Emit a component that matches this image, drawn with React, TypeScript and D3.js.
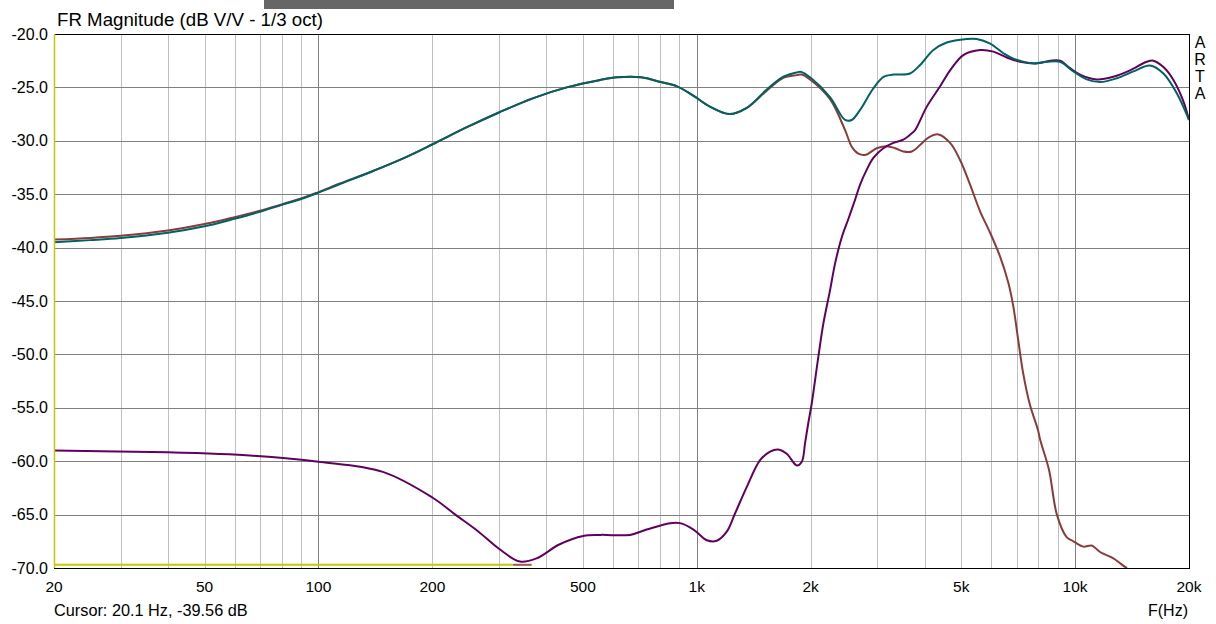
import React from "react";
import * as d3 from "d3";

// ---- Data ----
const xTickValues = [20, 50, 100, 200, 500, 1000, 2000, 5000, 10000, 20000];
const xTickLabels = ["20", "50", "100", "200", "500", "1k", "2k", "5k", "10k", "20k"];
const yTickValues = [-20, -25, -30, -35, -40, -45, -50, -55, -60, -65, -70];

// Total response (teal)
const totalFreq = [20, 25, 30, 40, 50, 60, 70, 80, 90, 100, 114, 140, 171, 201, 246, 302, 370, 453, 556, 615, 712, 803, 887, 981, 1083, 1220, 1352, 1531, 1694, 1836, 1890, 2000, 2250, 2466, 2568, 2702, 2929, 3122, 3308, 3661, 3893, 4221, 4578, 5170, 5497, 5963, 6463, 6868, 7760, 8420, 9126, 9895, 10735, 11640, 12892, 14259, 15787, 17115, 18566, 20000];
const totalDb = [-39.5, -39.3, -39.1, -38.6, -38.0, -37.3, -36.65, -36.0, -35.45, -34.85, -34.05, -32.8, -31.5, -30.3, -28.75, -27.3, -26.0, -25.0, -24.3, -24.05, -24.05, -24.5, -24.9, -25.8, -26.8, -27.5, -26.95, -25.2, -24.0, -23.6, -23.55, -24.1, -25.9, -28.05, -28.05, -27.1, -25.1, -24.0, -23.8, -23.7, -22.9, -21.5, -20.8, -20.47, -20.47, -20.9, -21.8, -22.3, -22.75, -22.6, -22.6, -23.5, -24.25, -24.5, -24.15, -23.5, -22.95, -23.7, -25.55, -28.05];

// Woofer (brown)
const wooferFreq = [20, 25, 30, 40, 50, 60, 70, 80, 90, 100, 114, 140, 171, 201, 246, 302, 370, 453, 556, 615, 712, 803, 887, 981, 1083, 1220, 1352, 1531, 1694, 1836, 1890, 2000, 2250, 2466, 2568, 2674, 2800, 2989, 3178, 3344, 3516, 3701, 3893, 4095, 4352, 4673, 4965, 5277, 5608, 5960, 6335, 6660, 6865, 7073, 7293, 7593, 7980, 8085, 8530, 8950, 9495, 9895, 10518, 11066, 11640, 12620, 13550, 13720];
const wooferDb = [-39.25, -39.1, -38.9, -38.4, -37.8, -37.15, -36.55, -35.95, -35.4, -34.8, -34.0, -32.8, -31.5, -30.3, -28.75, -27.3, -26.0, -25.0, -24.3, -24.05, -24.05, -24.5, -24.9, -25.8, -26.8, -27.5, -26.95, -25.3, -24.1, -23.85, -23.8, -24.3, -26.1, -29.0, -30.55, -31.2, -31.3, -30.7, -30.5, -30.7, -31.0, -31.0, -30.4, -29.7, -29.4, -30.2, -31.8, -34.1, -36.6, -38.6, -40.85, -43.3, -45.5, -48.65, -51.8, -54.7, -57.1, -58.0, -60.8, -65.0, -67.1, -67.5, -68.0, -67.9, -68.5, -69.1, -69.9, -70.0];

// Tweeter (purple)
const tweeterFreq = [20, 40, 58, 100, 148, 200, 230, 265, 300, 341, 377, 433, 501, 556, 666, 737, 850, 903, 980, 1063, 1129, 1200, 1262, 1356, 1470, 1562, 1643, 1729, 1839, 1895, 1933, 1972, 2013, 2096, 2161, 2250, 2320, 2418, 2517, 2622, 2702, 2814, 2929, 3113, 3308, 3516, 3701, 3776, 4055, 4397, 4673, 5065, 5608, 6081, 6596, 7153, 7921, 8590, 9126, 9697, 10305, 11409, 12620, 13973, 15468, 16100, 17115, 18190, 19330, 20000];
const tweeterDb = [-59.0, -59.17, -59.35, -60.05, -61.0, -63.4, -65.0, -66.6, -68.2, -69.4, -69.1, -67.8, -67.0, -66.9, -66.9, -66.4, -65.8, -65.8, -66.4, -67.4, -67.45, -66.6, -64.9, -62.4, -59.9, -59.1, -58.9, -59.3, -60.4, -60.05, -58.3, -56.4, -54.6, -50.2, -47.1, -44.0, -41.5, -39.0, -37.3, -35.5, -34.1, -32.7, -31.6, -30.7, -30.2, -29.9, -29.3, -29.0, -26.8, -24.9, -23.4, -21.97, -21.5, -21.65, -22.2, -22.6, -22.75, -22.5, -22.5, -23.2, -23.8, -24.25, -24.0, -23.4, -22.6, -22.5, -23.1, -24.3, -26.3, -28.05];

// Reference / noise floor traces at the bottom
const floorFreq = [20, 327];
const floorDb = [-69.7, -69.7];
const floor2Freq = [327, 366];
const floor2Db = [-69.7, -69.7];

const W = 1216;
const H = 624;
const M = { left: 54, right: 1189, top: 34, bottom: 568 };

export default function App() {
  const x = d3.scaleLog().domain([20, 20000]).range([M.left, M.right]);
  const y = d3.scaleLinear().domain([-70, -20]).range([M.bottom, M.top]);

  const minorTicks: number[] = [];
  for (const dec of [10, 100, 1000, 10000]) {
    for (let k = 1; k <= 9; k++) {
      const v = dec * k;
      if (v > 20 && v < 20000) minorTicks.push(v);
    }
  }
  const isMajor = (v: number) => v === 100 || v === 1000 || v === 10000;

  const mk = (fs: number[], ds: number[]) =>
    d3
      .line<number>()
      .x((_, i) => x(fs[i]))
      .y((_, i) => y(ds[i]))
      .curve(d3.curveCatmullRom.alpha(0.5))(fs.map((_, i) => i)) || "";

  const font = "'Liberation Sans', Arial, sans-serif";

  return (
    <svg
      width={W}
      height={H}
      style={{ position: "absolute", left: 0, top: 0, background: "#fff" }}
      fontFamily={font}
    >
      <defs>
        <clipPath id="plotClip">
          <rect x={M.left} y={M.top} width={M.right - M.left} height={M.bottom - M.top} />
        </clipPath>
      </defs>
      <rect x={0} y={0} width={W} height={H} fill="#fff" />
      {/* top grey bar */}
      <rect x={264} y={0} width={410} height={9} fill="#666666" />

      {/* vertical grid */}
      {minorTicks.map((v) => (
        <line
          key={"v" + v}
          x1={Math.round(x(v)) + 0.5}
          x2={Math.round(x(v)) + 0.5}
          y1={M.top}
          y2={M.bottom}
          stroke={isMajor(v) ? "#808080" : "#c0c0c0"}
          strokeWidth={1}
        />
      ))}
      {/* horizontal grid */}
      {yTickValues.slice(1, -1).map((v) => (
        <line
          key={"h" + v}
          x1={M.left}
          x2={M.right}
          y1={Math.round(y(v)) + 0.5}
          y2={Math.round(y(v)) + 0.5}
          stroke="#808080"
          strokeWidth={1}
        />
      ))}

      {/* frame */}
      <rect
        x={M.left + 0.5}
        y={M.top + 0.5}
        width={M.right - M.left}
        height={M.bottom - M.top}
        fill="none"
        stroke="#000"
        strokeWidth={1}
      />

      <g clipPath="url(#plotClip)" fill="none" strokeWidth={2} strokeLinejoin="round">
        <path d={mk(floorFreq, floorDb)} stroke="#c8c800" />
        <path d={mk(floor2Freq, floor2Db)} stroke="#9a5a50" />
        <path d={mk(wooferFreq, wooferDb)} stroke="#883c3c" />
        <path d={mk(tweeterFreq, tweeterDb)} stroke="#620060" />
        <path d={mk(totalFreq, totalDb)} stroke="#006262" />
      </g>
      {/* left border (yellow) */}
      <line x1={M.left + 0.5} x2={M.left + 0.5} y1={M.top} y2={M.bottom} stroke="#c8c800" strokeWidth={1.5} />

      {/* y labels */}
      {yTickValues.map((v) => (
        <text key={"yl" + v} x={48} y={y(v) + 5.5} textAnchor="end" fontSize={16} fill="#000">
          {v.toFixed(1)}
        </text>
      ))}
      {/* x labels */}
      {xTickValues.map((v, i) => (
        <text key={"xl" + v} x={x(v)} y={592} textAnchor="middle" fontSize={15.5} fill="#000">
          {xTickLabels[i]}
        </text>
      ))}

      <text x={57} y={26} fontSize={18.7} fill="#000">
        FR Magnitude (dB V/V - 1/3 oct)
      </text>
      <text x={54} y={616} fontSize={16.3} fill="#000">
        Cursor: 20.1 Hz, -39.56 dB
      </text>
      <text x={1188} y={616} fontSize={16} textAnchor="end" fill="#000">
        F(Hz)
      </text>
      {["A", "R", "T", "A"].map((c, i) => (
        <text key={"arta" + i} x={1200} y={48 + i * 16.9} textAnchor="middle" fontSize={16} fill="#000">
          {c}
        </text>
      ))}
    </svg>
  );
}
